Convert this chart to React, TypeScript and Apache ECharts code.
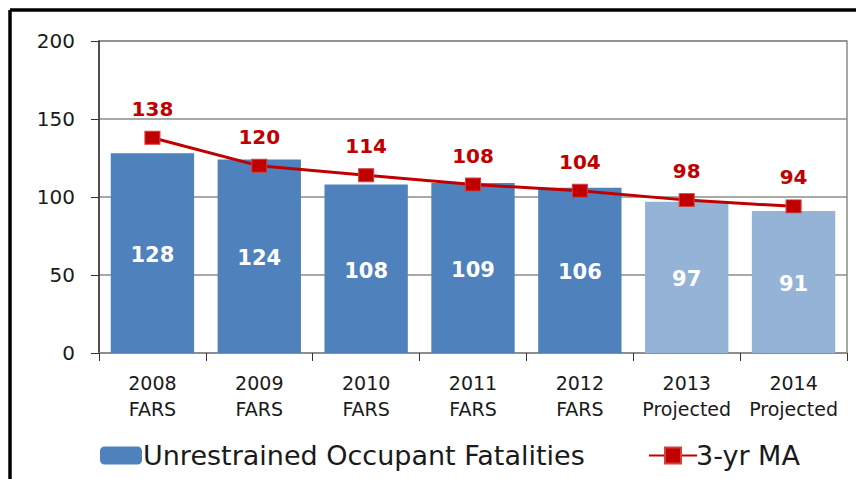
import React, { useEffect, useRef } from "react";
import * as echarts from "echarts";

const categories = ["2008\nFARS", "2009\nFARS", "2010\nFARS", "2011\nFARS", "2012\nFARS", "2013\nProjected", "2014\nProjected"];
const fatalities = [128, 124, 108, 109, 106, 97, 91];
const projected = [false, false, false, false, false, true, true];
const movingAvg = [138, 120, 114, 108, 104, 98, 94];
const barName = "Unrestrained Occupant Fatalities";
const lineName = "3-yr MA";

const FONT = "DejaVu Sans";

export default function App() {
  const ref = useRef<HTMLDivElement>(null);
  useEffect(() => {
    if (!ref.current) return;
    const chart = echarts.init(ref.current, undefined, { renderer: "svg" });
    chart.setOption({
      animation: false,
      textStyle: { fontFamily: FONT },
      grid: { left: 99, right: 9, top: 41, bottom: 126, show: true, borderColor: "#8c8c8c", borderWidth: 1.5 },
      legend: [
        {
          data: [barName],
          left: 95,
          top: 437,
          itemWidth: 42,
          itemHeight: 18,
          itemGap: 0,
          textStyle: { fontFamily: FONT, fontSize: 27, color: "#1a1a1a", padding: [0, 0, 0, -4] },
        },
        {
          data: [lineName],
          left: 643,
          top: 437,
          itemWidth: 48,
          itemHeight: 20,
          itemGap: 0,
          textStyle: { fontFamily: FONT, fontSize: 27, color: "#1a1a1a", padding: [0, 0, 0, -6] },
        },
      ],
      xAxis: {
        type: "category",
        data: categories,
        axisLine: { lineStyle: { color: "#8c8c8c", width: 1.5 } },
        axisTick: { show: true, length: 8, lineStyle: { color: "#333" } },
        axisLabel: { interval: 0, fontSize: 19, color: "#1a1a1a", lineHeight: 26, margin: 17 },
      },
      yAxis: {
        type: "value",
        min: 0,
        max: 200,
        interval: 50,
        axisLine: { show: true, lineStyle: { color: "#333", width: 1.5 } },
        axisTick: { show: true, length: 8, lineStyle: { color: "#333" } },
        axisLabel: { fontSize: 20, color: "#1a1a1a", margin: 24 },
        splitLine: { lineStyle: { color: "#8c8c8c", width: 1.5 } },
      },
      series: [
        {
          name: barName,
          type: "bar",
          barWidth: "78%",
          itemStyle: { color: "#4F81BD" },
          data: fatalities.map((v, i) => ({
            value: v,
            itemStyle: { color: projected[i] ? "#95B3D7" : "#4F81BD" },
          })),
          label: {
            show: true,
            position: "inside",
            offset: [0, 2],
            color: "#fff",
            fontSize: 21,
            fontWeight: "bold",
            fontFamily: FONT,
          },
          z: 1,
        },
        {
          name: lineName,
          type: "line",
          data: movingAvg,
          symbol: "rect",
          symbolSize: [15, 13],
          itemStyle: { color: "#C00000", borderColor: "#D24040", borderWidth: 1 },
          lineStyle: { color: "#C00000", width: 3 },
          label: {
            show: true,
            position: "top",
            distance: 12,
            color: "#C00000",
            fontSize: 20,
            fontWeight: "bold",
            fontFamily: FONT,
          },
          z: 3,
        },
      ],
      graphic: [
        { type: "line", shape: { x1: 10, y1: 10, x2: 856, y2: 10 }, style: { stroke: "#000", lineWidth: 3.5 } },
        { type: "line", shape: { x1: 10, y1: 10, x2: 10, y2: 479 }, style: { stroke: "#000", lineWidth: 3.5 } },
      ],
    });
    return () => chart.dispose();
  }, []);
  return <div ref={ref} style={{ position: "absolute", left: 0, top: 0, width: 856, height: 479 }} />;
}
